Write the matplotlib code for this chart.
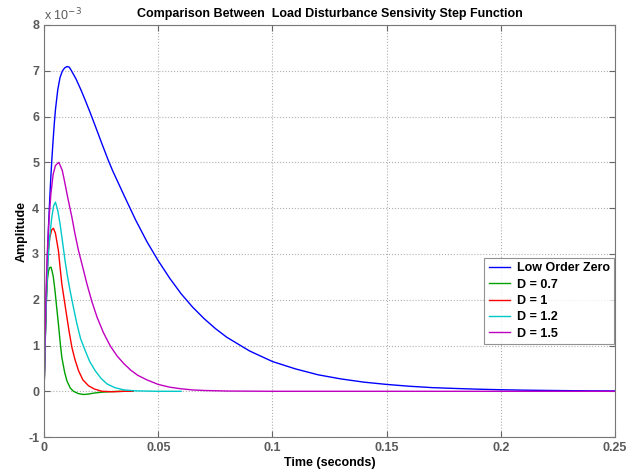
import matplotlib
matplotlib.use('Agg')
import matplotlib.pyplot as plt

plt.rcParams['font.family'] = ['Liberation Sans', 'DejaVu Sans']
plt.rcParams['axes.unicode_minus'] = False

# amplitudes in units of 1e-3
t_low = [0, 0.0005, 0.001, 0.0015, 0.002, 0.0025, 0.003, 0.0035, 0.004, 0.0045, 0.005, 0.006,
         0.007, 0.008, 0.009, 0.010, 0.011, 0.012, 0.014, 0.016, 0.018, 0.020, 0.022, 0.025,
         0.028, 0.030, 0.035, 0.040, 0.045, 0.050, 0.055, 0.060, 0.065, 0.070, 0.075, 0.080,
         0.090, 0.100, 0.110, 0.120, 0.130, 0.140, 0.150, 0.160, 0.170, 0.180, 0.190, 0.200,
         0.210, 0.220, 0.230, 0.240, 0.250]
y_low = [0, 1.1, 2.1, 2.95, 3.65, 4.2, 4.7, 5.12, 5.5, 5.85, 6.15, 6.58,
         6.85, 6.99, 7.06, 7.09, 7.08, 7.0, 6.82, 6.6, 6.36, 6.11, 5.85, 5.45,
         5.06, 4.82, 4.28, 3.75, 3.27, 2.85, 2.47, 2.13, 1.84, 1.59, 1.37, 1.18,
         0.88, 0.65, 0.49, 0.36, 0.27, 0.20, 0.15, 0.11, 0.08, 0.062, 0.046, 0.034,
         0.025, 0.019, 0.014, 0.010, 0.008]

t_d07 = [0, 0.0002, 0.0005, 0.001, 0.0015, 0.002, 0.0025, 0.0031, 0.004, 0.0048, 0.0055,
         0.0063, 0.007, 0.0078, 0.009, 0.010, 0.0115, 0.0129, 0.015, 0.0173, 0.0195, 0.0217,
         0.025, 0.030, 0.035, 0.039]
y_d07 = [0, 0.4, 1.1, 1.95, 2.45, 2.64, 2.7, 2.71, 2.52, 2.2, 1.85,
         1.47, 1.1, 0.74, 0.42, 0.23, 0.07, 0.0, -0.05, -0.07, -0.06, -0.04,
         -0.02, -0.005, 0.0, 0.0]

t_d1 = [0, 0.0003, 0.0007, 0.0012, 0.0019, 0.0025, 0.0033, 0.0041, 0.005, 0.0063, 0.007,
        0.0078, 0.009, 0.010, 0.011, 0.0122, 0.0135, 0.0151, 0.017, 0.0195, 0.022, 0.0254,
        0.030, 0.035, 0.039]
y_d1 = [0, 0.6, 1.5, 2.4, 3.07, 3.35, 3.52, 3.56, 3.45, 3.07, 2.72,
        2.34, 1.95, 1.62, 1.3, 0.96, 0.7, 0.45, 0.25, 0.12, 0.05, 0.0,
        -0.01, 0.0, 0.0]

t_d12 = [0, 0.0003, 0.0008, 0.0014, 0.002, 0.0026, 0.0034, 0.0042, 0.005, 0.006, 0.007,
         0.008, 0.0092, 0.0103, 0.0114, 0.013, 0.0144, 0.016, 0.018, 0.020, 0.0224, 0.025,
         0.0276, 0.031, 0.035, 0.040, 0.050, 0.060]
y_d12 = [0, 0.6, 1.6, 2.5, 3.05, 3.43, 3.8, 4.05, 4.13, 3.95, 3.66,
         3.3, 2.85, 2.5, 2.2, 1.8, 1.47, 1.15, 0.89, 0.65, 0.45, 0.28,
         0.16, 0.08, 0.03, 0.01, 0.0, 0.0]

t_d15 = [0, 0.0005, 0.001, 0.0015, 0.002, 0.0025, 0.003, 0.004, 0.005, 0.0065, 0.008,
         0.0092, 0.0105, 0.0122, 0.0135, 0.0151, 0.017, 0.0188, 0.021, 0.0232, 0.026, 0.029,
         0.032, 0.035, 0.038, 0.041, 0.045, 0.050, 0.055, 0.060, 0.065, 0.070, 0.080, 0.100,
         0.250]
y_d15 = [0, 1.3, 2.4, 3.1, 3.6, 3.98, 4.31, 4.74, 4.93, 5.0, 4.82,
         4.53, 4.2, 3.80, 3.45, 3.07, 2.7, 2.34, 1.95, 1.62, 1.28, 0.99,
         0.77, 0.60, 0.46, 0.35, 0.25, 0.15, 0.09, 0.055, 0.03, 0.018, 0.006, 0.0,
         0.0]

labels = ['Low Order Zero', 'D = 0.7', 'D = 1', 'D = 1.2', 'D = 1.5']
colors = ['#0000ff', '#00a000', '#ff0000', '#00c8c8', '#c000c0']
x_ticks = [0, 0.05, 0.1, 0.15, 0.2, 0.25]
x_ticklabels = ['0', '0.05', '0.1', '0.15', '0.2', '0.25']
y_ticks = [-1, 0, 1, 2, 3, 4, 5, 6, 7, 8]

fig = plt.figure(figsize=(6.29, 4.70), dpi=100)
ax = fig.add_axes([0.070, 0.070, 0.908, 0.877])

series = [(t_low, y_low), (t_d07, y_d07), (t_d1, y_d1), (t_d12, y_d12), (t_d15, y_d15)]
for (t, y), c, lab in zip(series, colors, labels):
    ax.plot(t, y, color=c, linewidth=1.0, label=lab)

ax.set_xlim(0, 0.25)
ax.set_ylim(-1, 8)
ax.set_xticks(x_ticks)
ax.set_xticklabels(x_ticklabels)
ax.set_yticks(y_ticks)
ax.grid(True, linestyle=':', color='#b0b0b0', linewidth=0.8)
ax.tick_params(direction='in', top=True, right=True, colors='#666666',
               labelsize=9, length=4)
for lab in ax.get_xticklabels() + ax.get_yticklabels():
    lab.set_color('#5a5a5a')
    lab.set_fontweight('bold')
for sp in ax.spines.values():
    sp.set_color('#777777')

ax.set_title('Comparison Between  Load Disturbance Sensivity Step Function',
             fontsize=9, fontweight='bold', pad=6)
ax.set_xlabel('Time (seconds)', fontsize=9, fontweight='bold', labelpad=2)
ax.set_ylabel('Amplitude', fontsize=9, fontweight='bold', labelpad=0)
ax.text(0.0, 1.005, 'x 10$^{-3}$', transform=ax.transAxes, fontsize=9,
        color='#5a5a5a', ha='left', va='bottom')

leg = ax.legend(loc='upper right', bbox_to_anchor=(0.998, 0.435), borderaxespad=0,
                fancybox=False, prop={'size': 9, 'weight': 'bold'}, handlelength=1.75,
                labelspacing=0.35, borderpad=0.35, handletextpad=0.5)
leg.get_frame().set_edgecolor('#777777')
leg.get_frame().set_linewidth(0.8)

fig.savefig('out.png', dpi=100)
